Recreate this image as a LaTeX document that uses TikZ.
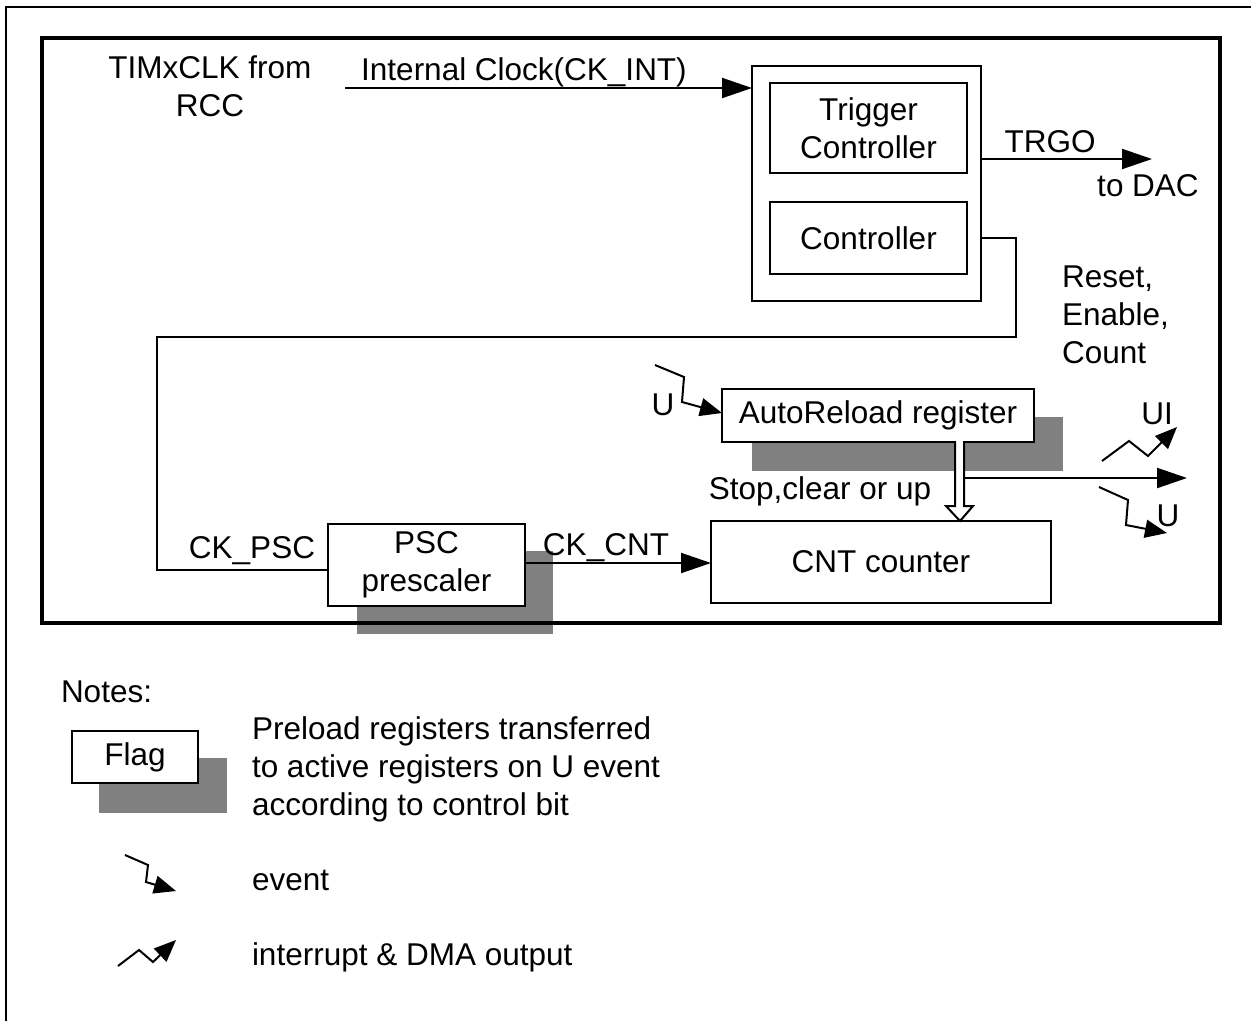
\documentclass[tikz,border=0pt]{standalone}
\usepackage{fontspec}
\setmainfont{Liberation Sans}
\usetikzlibrary{arrows.meta}
\definecolor{shadowgray}{RGB}{128,128,128}
\begin{document}
\begin{tikzpicture}[x=1pt,y=-1pt,
  every node/.style={font=\fontsize{31.5}{38}\selectfont, inner sep=0pt, outer sep=0pt},
  box/.style={draw, line width=2pt, fill=white},
  conn/.style={line width=2pt},
  arr/.style={conn, -{Triangle[length=30pt,width=20pt]}},
  evt/.style={conn, line join=miter, -{Triangle[length=22pt,width=18pt]}},
  lbl/.style={anchor=mid},
]
\useasboundingbox (0,0) rectangle (1251,1021);
% outer frame (only top and left visible)
\draw[line width=2pt] (6,1021) -- (6,7) -- (1251,7);

% shadows
\fill[shadowgray] (752,417) rectangle (1063,471);
\fill[shadowgray] (357,551) rectangle (553,634);
\fill[shadowgray] (99,758) rectangle (227,813);

% inner frame
\node[draw, line width=3.5pt, minimum width=1178pt, minimum height=585pt] (frame) at (631,330.5) {};

% boxes
\node[box, minimum width=229pt, minimum height=235pt] (ctrlouter) at (866.5,183.5) {};
\node[box, minimum width=197pt, minimum height=90pt, align=center] (trig) at (868.5,128) {Trigger\\Controller};
\node[box, minimum width=197pt, minimum height=72pt] (ctrl) at (868.5,238) {Controller};
\node[box, minimum width=312pt, minimum height=53pt] (arreg) at (878,415.5) {AutoReload register};
\node[box, minimum width=340pt, minimum height=82pt] (cnt) at (881,562) {CNT counter};
\node[box, minimum width=197pt, minimum height=82pt, align=center] (psc) at (426.5,565) {PSC\\prescaler};
\node[box, minimum width=126pt, minimum height=52pt] (flag) at (135,757) {Flag};

% clock input
\coordinate (clkstart) at (345,88);
\draw[arr] (clkstart) -- (clkstart -| ctrlouter.west);
\node[lbl] (clklbl) at (524,78) {Internal Clock(CK\_INT)};
\node[align=center] (rcc) at (210,86) {TIMxCLK from\\RCC};

% TRGO
\coordinate (trgoend) at (1152,159);
\draw[arr] (trgoend -| ctrlouter.east) -- (trgoend);
\node[lbl] (trgolbl) at (1050,150) {TRGO};
\node[lbl] (daclbl) at (1148,194) {to DAC};

% controller to prescaler
\coordinate (c1) at (1016,238);
\coordinate (c2) at (1016,337);
\coordinate (c3) at (157,337);
\coordinate (c4) at (157,570);
\draw[conn, line join=miter] (c1 -| ctrlouter.east) -- (c1) -- (c2) -- (c3) -- (c4) -- (c4 -| psc.west);
\node[anchor=west, align=left] (rec) at (1062,315) {Reset,\\Enable,\\Count};
\node[lbl] (ckpsc) at (252,556) {CK\_PSC};

% prescaler to counter
\coordinate (ckc) at (525,563);
\draw[arr] (ckc -| psc.east) -- (ckc -| cnt.west);
\node[lbl] (ckcnt) at (606,553) {CK\_CNT};

% U event into autoreload
\coordinate (u1a) at (655,365);
\coordinate (u1b) at (684,377);
\coordinate (u1c) at (682,402);
\coordinate (u1d) at (722,413);
\draw[evt] (u1a) -- (u1b) -- (u1c) -- (u1d);
\node[lbl] (ulbl1) at (663,413) {U};

% hollow transfer arrow
\draw[line width=2pt, fill=white, line join=miter] (955,441) -- (955,506) -- (946,506) -- (960,521) -- (973,506) -- (964,506) -- (964,441);

% output arrow
\coordinate (outs) at (964,478);
\coordinate (oute) at (1187,478);
\draw[arr] (outs) -- (oute);
\node[lbl] (stoplbl) at (820,497) {Stop,clear or up};

% UI interrupt
\coordinate (i1a) at (1102,461);
\coordinate (i1b) at (1129,441);
\coordinate (i1c) at (1148,456);
\coordinate (i1d) at (1177,427);
\draw[evt] (i1a) -- (i1b) -- (i1c) -- (i1d);
\node[lbl] (uilbl) at (1157,422) {UI};

% U event out
\coordinate (u2a) at (1099,487);
\coordinate (u2b) at (1128,500);
\coordinate (u2c) at (1126,525);
\coordinate (u2d) at (1167,533);
\draw[evt] (u2a) -- (u2b) -- (u2c) -- (u2d);
\node[lbl] (ulbl2) at (1168,524) {U};

% notes
\node[anchor=mid west] (notes) at (61,700) {Notes:};
\node[anchor=west, align=left] (notetext) at (252,769) {Preload registers transferred\\to active registers on U event\\according to control bit};

\coordinate (e1a) at (125,855);
\coordinate (e1b) at (148,865);
\coordinate (e1c) at (146,882);
\coordinate (e1d) at (176,891);
\draw[evt] (e1a) -- (e1b) -- (e1c) -- (e1d);
\node[anchor=mid west] (evlbl) at (252,888) {event};

\coordinate (e2a) at (118,966);
\coordinate (e2b) at (139,950);
\coordinate (e2c) at (153,962);
\coordinate (e2d) at (176,940);
\draw[evt] (e2a) -- (e2b) -- (e2c) -- (e2d);
\node[anchor=mid west] (irqlbl) at (252,963) {interrupt \& DMA output};
\end{tikzpicture}
\end{document}
